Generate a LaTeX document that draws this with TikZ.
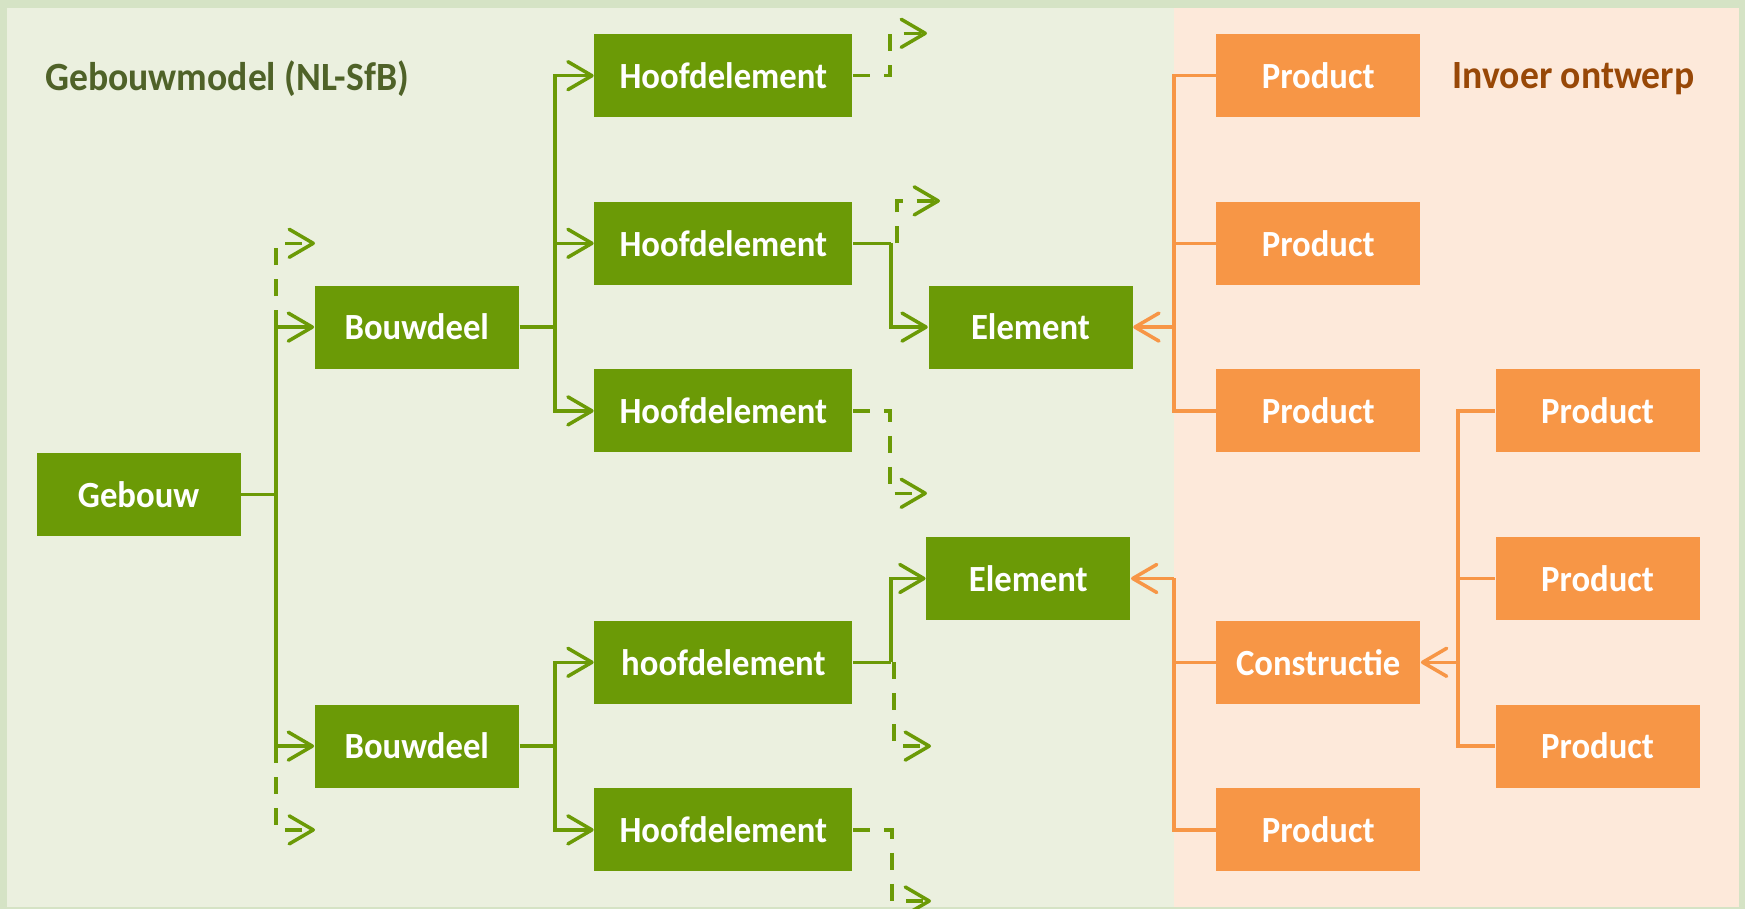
\documentclass[tikz,border=0pt]{standalone}
\usepackage{fontspec}
\setmainfont{Carlito}[FakeStretch=0.94]
\usetikzlibrary{arrows.meta,positioning}
\definecolor{frameGreen}{HTML}{D5E3C5}
\definecolor{panelGreen}{HTML}{EBF0DF}
\definecolor{panelOrange}{HTML}{FDE9DA}
\definecolor{boxGreen}{HTML}{6B9A06}
\definecolor{boxOrange}{HTML}{F79646}
\definecolor{titleGreen}{HTML}{4F6228}
\definecolor{titleBrown}{HTML}{984807}
\begin{document}
\begin{tikzpicture}
			\tikzstyle{Box}		= [rectangle, inner sep=0pt, minimum height=8.3mm, text=white, font=\bfseries\fontsize{10.5}{12}\selectfont]
			\tikzstyle{Green}	= [Box, fill=boxGreen, minimum width=20.4mm]
			\tikzstyle{Hoofd}	= [Box, fill=boxGreen, minimum width=25.8mm]
			\tikzstyle{Orange}	= [Box, fill=boxOrange, minimum width=20.4mm]
			\tikzstyle{Title}	= [anchor=west, inner sep=0pt, font=\bfseries\fontsize{11.4}{14}\selectfont]
			\tikzstyle{GL}		= [draw=boxGreen, line width=1pt]
			\tikzstyle{GA}		= [GL, -{Straight Barb[length=2.4mm, width=2.8mm, round]}]
			\tikzstyle{GD}		= [GA, dash pattern=on 1.7mm off 1.4mm]
			\tikzstyle{OL}		= [draw=boxOrange, line width=1pt]
			\tikzstyle{OA}		= [OL, -{Straight Barb[length=2.4mm, width=2.8mm, round]}]

			\useasboundingbox (0,0) rectangle (17.45,9.09);
			\fill[frameGreen] (0,0) rectangle (17.45,9.09);
			\fill[panelGreen] (0.07,0.02) rectangle (11.74,9.01);
			\fill[panelOrange] (11.74,0.02) rectangle (17.39,9.01);

			\node (t1) at (0.445, 8.30) [Title, text=titleGreen] {Gebouwmodel (NL-SfB)};
			\node (t2) at (14.52, 8.30) [Title, text=titleBrown] {Invoer ontwerp};

			\node (g)  at (1.386, 4.143) [Green] {Gebouw};
			\node (b1) at (4.168, 5.819) [Green] {Bouwdeel};
			\node (b2) at (4.168, 1.629) [Green] {Bouwdeel};
			\node (h1) at (7.234, 8.333) [Hoofd] {Hoofdelement};
			\node (h2) at (7.234, 6.657) [Hoofd] {Hoofdelement};
			\node (h3) at (7.234, 4.981) [Hoofd] {Hoofdelement};
			\node (h4) at (7.234, 2.467) [Hoofd] {hoofdelement};
			\node (h5) at (7.234, 0.791) [Hoofd] {Hoofdelement};
			\node (e1) at (10.305, 5.819) [Green] {Element};
			\node (e2) at (10.283, 3.305) [Green] {Element};
			\node (p1) at (13.182, 8.333) [Orange] {Product};
			\node (p2) at (13.182, 6.657) [Orange] {Product};
			\node (p3) at (13.182, 4.981) [Orange] {Product};
			\node (c)  at (13.182, 2.467) [Orange] {Constructie};
			\node (p4) at (13.182, 0.791) [Orange] {Product};
			\node (q1) at (15.976, 4.981) [Orange] {Product};
			\node (q2) at (15.976, 3.305) [Orange] {Product};
			\node (q3) at (15.976, 1.629) [Orange] {Product};

			\coordinate (gb)  at (2.76, 4.143);
			\coordinate (gu)  at (3.15, 6.657);
			\coordinate (gd)  at (3.15, 0.791);
			\coordinate (bb1) at (5.55, 5.819);
			\coordinate (bb2) at (5.55, 1.629);
			\coordinate (h1u) at (9.27, 8.757);
			\coordinate (h2u) at (9.40, 7.081);
			\coordinate (h3d) at (9.27, 4.157);
			\coordinate (h4d) at (9.31, 1.629);
			\coordinate (h5d) at (9.31, 0.08);
			\coordinate (o1)  at (11.74, 5.819);
			\coordinate (o2)  at (11.74, 3.305);
			\coordinate (o3)  at (14.58, 2.467);

			\draw [GL] (g) -- (gb);
			\draw [GA] (gb) |- (b1);
			\draw [GA] (gb) |- (b2);
			\draw [GD] (gb |- b1) |- (gu);
			\draw [GD] (gb |- b2) |- (gd);

			\draw [GL] (b1) -- (bb1);
			\draw [GA] (bb1) |- (h1);
			\draw [GA] (bb1) |- (h2);
			\draw [GA] (bb1) |- (h3);
			\draw [GL] (b2) -- (bb2);
			\draw [GA] (bb2) |- (h4);
			\draw [GA] (bb2) |- (h5);

			\draw [GD] (h1.east) -- ++(0.37,0) |- (h1u);
			\draw [GL] (h2.east) -- ++(0.38,0) coordinate (h2b);
			\draw [GA] (h2b) |- (e1);
			\draw [GD] (h2b) ++(0.06,0) |- (h2u);
			\draw [GD] (h3.east) -- ++(0.37,0) |- (h3d);
			\draw [GL] (h4.east) -- ++(0.38,0) coordinate (h4b);
			\draw [GA] (h4b) |- (e2);
			\draw [GD] (h4b) ++(0.03,0) |- (h4d);
			\draw [GD] (h5.east) -- ++(0.39,0) |- (h5d);

			\draw [OA] (o1) -- (e1);
			\draw [OL] (p1.west) -| (o1);
			\draw [OL] (p2.west) -| (o1);
			\draw [OL] (p3.west) -| (o1);
			\draw [OA] (o2) -- (e2);
			\draw [OL] (c.west) -| (o2);
			\draw [OL] (p4.west) -| (o2);
			\draw [OA] (o3) -- (c);
			\draw [OL] (q1.west) -| (o3);
			\draw [OL] (q2.west) -| (o3);
			\draw [OL] (q3.west) -| (o3);
		\end{tikzpicture}
\end{document}
